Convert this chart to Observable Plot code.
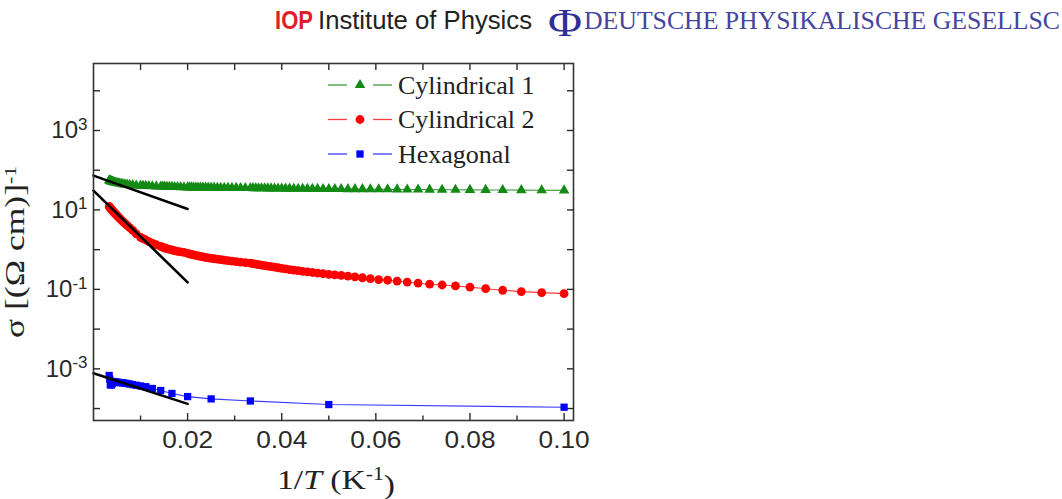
<!DOCTYPE html>
<html><head><meta charset="utf-8">
<script src="https://cdn.jsdelivr.net/npm/d3@7"></script>
<script src="https://cdn.jsdelivr.net/npm/@observablehq/plot@0.6"></script>
<style>
html,body{margin:0;padding:0;background:#fff;overflow:hidden;width:1062px;height:499px}
#header{display:block;overflow:visible;position:relative;z-index:2}
#chart svg{display:block}
</style></head><body>
<svg id="header" width="1062" height="42">
  <text x="275" y="29" font-family="'Liberation Sans',Arial,sans-serif" font-weight="bold" font-size="25" fill="#e31e2b" textLength="38" lengthAdjust="spacingAndGlyphs">IOP</text>
  <text x="318" y="29" font-family="'Liberation Sans',Arial,sans-serif" font-size="26" fill="#222" textLength="214" lengthAdjust="spacingAndGlyphs">Institute of Physics</text>
  <text x="548" y="36" font-family="'Liberation Serif','Times New Roman',serif" font-size="40" fill="#2f2f95" textLength="34" lengthAdjust="spacingAndGlyphs">Φ</text>
  <text x="584" y="29" font-family="'Liberation Serif','Times New Roman',serif" font-size="25" fill="#45459e" textLength="476" lengthAdjust="spacingAndGlyphs">DEUTSCHE PHYSIKALISCHE GESELLSC</text>
</svg>
<div id="chart"></div>
<script>
// Temperatures (K) of the cylindrical samples
const T = [10,10.5,11,11.5,12,12.5,13,13.5,14,14.5,15,15.5,16,16.5,17,17.5,18,18.5,19,19.5,20,20.5,21,21.5,22,22.5,23,23.5,24,24.5,25,25.5,26,26.5,27,27.5,28,28.5,29,29.5,30,
  31,32,33,34,35,36,37,38,39,40,41,42,43,44,45,46,47,48,49,50,
  52,54,56,58,60,62,64,66,68,70,
  75,80,85,90,95,100,
  110,120,130,140,150,160,170,180,190,200,210,220,230,240,250,260,270,280,290,300];
// conductivity (Ohm cm)^-1
const sigmaCyl1 = [31,31.2,31.5,31.7,31.9,32,32.2,32.3,32.5,32.6,32.8,32.9,33,33.1,33.2,33.3,33.4,33.4,33.5,33.6,33.6,33.7,33.8,33.9,34,34,34.1,34.2,34.3,34.4,34.5,34.6,34.7,34.8,34.9,35,35.1,35.2,35.3,35.4,35.5,
  35.6,35.7,35.8,35.9,36,36.1,36.2,36.3,36.4,36.5,36.5,36.6,36.6,36.7,36.7,36.8,36.8,36.9,36.9,37,
  37.2,37.4,37.6,37.8,38,38.2,38.4,38.6,38.8,39,
  39.2,39.6,39.9,40.2,40.5,40.8,
  41.3,42,42.6,43.3,44,44.7,45.4,46.1,46.8,47.5,48.3,49.1,49.9,50.7,51.5,52.3,53.1,54,55,56];
const sigmaCyl2 = [0.078,0.083,0.088,0.095,0.104,0.114,0.122,0.129,0.135,0.143,0.153,0.162,0.17,0.177,0.186,0.196,0.206,0.215,0.224,0.232,0.24,0.248,0.257,0.266,0.275,0.285,0.295,0.305,0.316,0.327,0.338,0.35,0.362,0.374,0.386,0.398,0.41,0.422,0.434,0.446,0.458,
  0.47,0.485,0.5,0.515,0.53,0.545,0.56,0.575,0.59,0.605,0.62,0.635,0.655,0.675,0.695,0.715,0.735,0.755,0.78,0.81,
  0.85,0.88,0.91,0.94,0.98,1.02,1.06,1.1,1.15,1.2,
  1.33,1.45,1.6,1.75,1.9,2.05,
  2.5,3.05,3.6,4.1,4.6,5.1,5.6,6.1,6.7,7.2,7.7,8.2,8.7,9.2,9.7,10.2,10.7,11.2,11.7,12.2];
// Hexagonal sample
const THex = [10,20,30,40,50,60,70,80,90,100,110,120,130,140,150,160,170,180,190,200,210,220,230,240,250,260,270,280,290,300];
const sigmaHex = [1.08e-4,1.26e-4,1.55e-4,1.75e-4,2.0e-4,2.4e-4,2.85e-4,3.2e-4,3.55e-4,3.7e-4,3.85e-4,4.0e-4,4.15e-4,4.25e-4,4.35e-4,4.45e-4,4.5e-4,4.5e-4,4.55e-4,4.6e-4,4.6e-4,4.7e-4,4.7e-4,4.8e-4,4.3e-4,4.0e-4,3.9e-4,4.0e-4,5.5e-4,6.8e-4];
// linear (Arrhenius) fits, 1/T in K^-1
const fitInvT = [0, 0.02];
const fitCyl1 = [73, 10.6];
const fitCyl2 = [30.6, 0.15];
const fitHex = [7.7e-4, 1.31e-4];

const seriesNames = ["Cylindrical 1","Cylindrical 2","Hexagonal"];
const seriesColors = ["#138a13","#ff0000","#0000ff"];
const lineColors = ["#3c9c3c","#ff3a3a","#3a3aff"];
const seriesSymbols = ["triangle","circle","square"];

const yTicks = [1e-3,1e-1,1e1,1e3];
const yLabels = ["10^-3","10^-1","10^1","10^3"];
const yAllTicks = [1e-4,1e-3,1e-2,1e-1,1,1e1,1e2,1e3,1e4];
const xTicks = [0.02,0.04,0.06,0.08,0.10];
const xLabels = ["0.02","0.04","0.06","0.08","0.10"];
const xMinorTicks = [0.01,0.03,0.05,0.07,0.09];

const cyl1 = T.map((t,i)=>({x:1/t, y:sigmaCyl1[i]}));
const cyl2 = T.map((t,i)=>({x:1/t, y:sigmaCyl2[i]}));
const hex = THex.map((t,i)=>({x:1/t, y:sigmaHex[i]}));
const fits = [fitCyl1, fitCyl2, fitHex].map(f => fitInvT.map((x,i)=>({x, y:f[i]})));
const sets = [cyl1, cyl2, hex];
const rs = [3.9, 4.4, 4.1];

const marks = [];
sets.forEach((d,k)=>{
  marks.push(Plot.line(d, {x:"x", y:"y", stroke: lineColors[k], strokeWidth: 1.1, sort: "x"}));
});
sets.forEach((d,k)=>{
  marks.push(Plot.dot(d, {x:"x", y:"y", symbol: seriesSymbols[k], fill: seriesColors[k], r: rs[k], stroke: null}));
});
fits.forEach(d => marks.push(Plot.line(d, {x:"x", y:"y", stroke:"#000", strokeWidth: 2.6})));

const chart = Plot.plot({
  width: 1062, height: 457,
  marginLeft: 93, marginRight: 489, marginTop: 21, marginBottom: 79,
  x: {domain: [0, 0.102]},
  y: {type: "log", domain: [5e-5, 4.86e4]},
  style: {fontFamily: "'Liberation Sans', Arial, sans-serif", fontSize: "24px", color: "#2a2a2a", background: "#fff"},
  marks: [
    ...marks,
    Plot.frame({stroke: "#333", strokeWidth: 1.6}),
    Plot.axisY(yAllTicks, {anchor: "left", tickSize: -7, tickFormat: () => "", label: null, strokeWidth: 1.4}),
    Plot.axisY(yAllTicks, {anchor: "right", tickSize: -7, tickFormat: () => "", label: null, strokeWidth: 1.4}),
    Plot.axisY(yTicks, {anchor: "left", tickSize: 0, tickPadding: 6, tickFormat: d => yLabels[yTicks.indexOf(d)], label: null}),
    Plot.axisX(xTicks, {anchor: "bottom", tickSize: -7, tickFormat: () => "", label: null, strokeWidth: 1.4}),
    Plot.axisX(xMinorTicks, {anchor: "bottom", tickSize: -4.5, tickFormat: () => "", label: null, strokeWidth: 1.4}),
    Plot.axisX(xTicks.concat(xMinorTicks), {anchor: "top", tickSize: -6, tickFormat: () => "", label: null, strokeWidth: 1.4}),
    Plot.axisX(xTicks, {anchor: "bottom", tickSize: 0, tickPadding: 11, tickFormat: d => xLabels[xTicks.indexOf(d)], label: null})
  ]
});
document.getElementById("chart").appendChild(chart);

const svg = d3.select(chart);
// superscripts in y tick labels
svg.selectAll('g[aria-label="y-axis tick label"] text').each(function(){
  const s = this.textContent;
  if (!s.includes("^")) return;
  const [b, e] = s.split("^");
  const t = d3.select(this);
  t.text(null);
  t.append("tspan").text(b);
  t.append("tspan").attr("dy", "-0.5em").attr("font-size", "17px").text(e);
});
// widen x tick labels as in the reference
svg.selectAll('g[aria-label="x-axis tick label"] text').each(function(){
  if (this.textContent) d3.select(this).attr("font-size", 23).attr("textLength", 51).attr("lengthAdjust", "spacingAndGlyphs");
});

// axis titles
const xt = svg.append("text").attr("x", 336).attr("y", 447).attr("text-anchor", "middle")
  .attr("font-family", "'Liberation Serif','Times New Roman',serif").attr("font-size", 28).attr("fill", "#222")
  .attr("textLength", 118).attr("lengthAdjust", "spacingAndGlyphs");
xt.append("tspan").text("1/");
xt.append("tspan").attr("font-style", "italic").text("T");
xt.append("tspan").text(" (K");
xt.append("tspan").attr("dy", "-0.5em").attr("font-size", 18).text("-1");
xt.append("tspan").attr("dy", "0.5em").text(")");

const yt = svg.append("text").attr("transform", "translate(24,210) rotate(-90)").attr("text-anchor", "middle")
  .attr("font-family", "'Liberation Serif','Times New Roman',serif").attr("font-size", 28).attr("fill", "#222")
  .attr("textLength", 172).attr("lengthAdjust", "spacingAndGlyphs");
yt.append("tspan").text("σ [(Ω cm)]");
yt.append("tspan").attr("dy", "-0.5em").attr("font-size", 17).text("-1");

// legend
const leg = svg.append("g");
seriesNames.forEach((name, i) => {
  const cy = 43 + i * 34.5;
  leg.append("line").attr("x1", 328).attr("x2", 347).attr("y1", cy).attr("y2", cy).attr("stroke", lineColors[i]).attr("stroke-width", 1.3);
  leg.append("line").attr("x1", 373).attr("x2", 392).attr("y1", cy).attr("y2", cy).attr("stroke", lineColors[i]).attr("stroke-width", 1.3);
  const sym = {triangle: d3.symbolTriangle, circle: d3.symbolCircle, square: d3.symbolSquare}[seriesSymbols[i]];
  leg.append("path").attr("d", d3.symbol(sym, Math.PI * rs[i] * rs[i])()).attr("transform", `translate(360,${cy})`).attr("fill", seriesColors[i]);
  leg.append("text").attr("x", 398).attr("y", cy).attr("dy", "0.33em").attr("text-anchor", "start")
    .attr("font-family", "'Liberation Serif','Times New Roman',serif").attr("font-size", 26).attr("fill", "#222").text(name);
});
</script>
</body></html>
